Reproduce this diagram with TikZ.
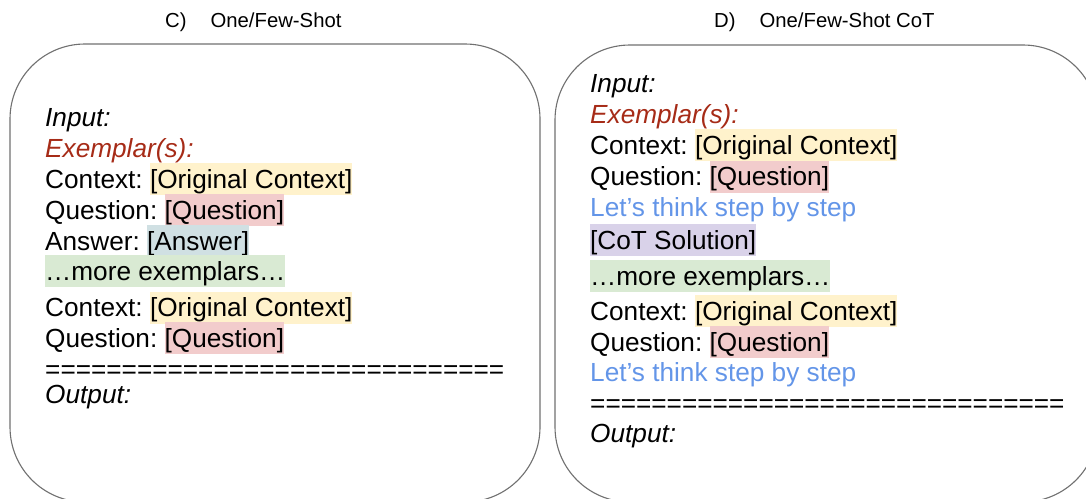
\documentclass[tikz,border=0pt]{standalone}
\usepackage{fontspec}
\setmainfont{Liberation Sans}
\frenchspacing

\definecolor{panelgray}{HTML}{707070}
\definecolor{hlyellow}{HTML}{FFF2CC}
\definecolor{hlred}{HTML}{F2CCCC}
\definecolor{hlcyan}{HTML}{D0E0E3}
\definecolor{hlgreen}{HTML}{D9EAD3}
\definecolor{hlpurple}{HTML}{D9D2E9}
\definecolor{exred}{HTML}{A62B17}
\definecolor{stepblue}{HTML}{6395E8}

\newcommand{\bodyfont}{\fontsize{26.2}{31}\selectfont}
\newcommand{\titlefont}{\fontsize{20.3}{24}\selectfont}
\newcommand{\hilite}[2]{{\setlength{\fboxsep}{0pt}\colorbox{#1}{\rule[-0.27em]{0pt}{1.22em}#2}}}

\begin{document}
\begin{tikzpicture}[x=1pt, y=-1pt,
    txt/.style={anchor=base west, inner sep=0pt, font=\bodyfont},
    ttl/.style={anchor=base west, inner sep=0pt, font=\titlefont},
    panel/.style={draw=panelgray, line width=1.1pt, rounded corners=75pt}]
    \clip (0,0) rectangle (1086,498);

    % C) one/few-shot
    \node[ttl] (ctitle) at (165,27.5) {C)\hspace{24pt}One/Few-Shot};
    \draw[panel] (10,44) rectangle (540,502);

    \node[txt] (cin) at (45,126.7) {\textit{Input:}};
    \node[txt, text=exred] (cex) at (45,157.3) {\textit{Exemplar(s):}};
    \node[txt] (cctxa) at (45,188.3) {Context: \hilite{hlyellow}{[Original Context]}};
    \node[txt] (cqa) at (45,219) {Question: \hilite{hlred}{[Question]}};
    \node[txt] (cans) at (45,250) {Answer: \hilite{hlcyan}{[Answer]}};
    \node[txt] (cmore) at (45,280) {\hilite{hlgreen}{…more exemplars…}};
    \node[txt] (cctxb) at (45,316.7) {Context: \hilite{hlyellow}{[Original Context]}};
    \node[txt] (cqb) at (45,347) {Question: \hilite{hlred}{[Question]}};
    \node[txt] (csep) at (45,378) {==============================};
    \node[txt] (cout) at (45,403.3) {\textit{Output:}};

    % D) one/few-shot CoT
    \node[ttl] (dtitle) at (714,27.5) {D)\hspace{24pt}One/Few-Shot CoT};
    \draw[panel] (555,45) rectangle (1098,502);

    \node[txt] (din) at (590,92) {\textit{Input:}};
    \node[txt, text=exred] (dex) at (590,123) {\textit{Exemplar(s):}};
    \node[txt] (dctxa) at (590,154) {Context: \hilite{hlyellow}{[Original Context]}};
    \node[txt] (dqa) at (590,185.5) {Question: \hilite{hlred}{[Question]}};
    \node[txt, text=stepblue] (dstepa) at (590,216.5) {Let’s think step by step};
    \node[txt] (dcot) at (590,249) {\hilite{hlpurple}{[CoT Solution]}};
    \node[txt] (dmore) at (590,285) {\hilite{hlgreen}{…more exemplars…}};
    \node[txt] (dctxb) at (590,320) {Context: \hilite{hlyellow}{[Original Context]}};
    \node[txt] (dqb) at (590,351) {Question: \hilite{hlred}{[Question]}};
    \node[txt, text=stepblue] (dstepb) at (590,381.5) {Let’s think step by step};
    \node[txt] (dsep) at (590,412) {===============================};
    \node[txt] (dout) at (590,442) {\textit{Output:}};
\end{tikzpicture}
\end{document}
